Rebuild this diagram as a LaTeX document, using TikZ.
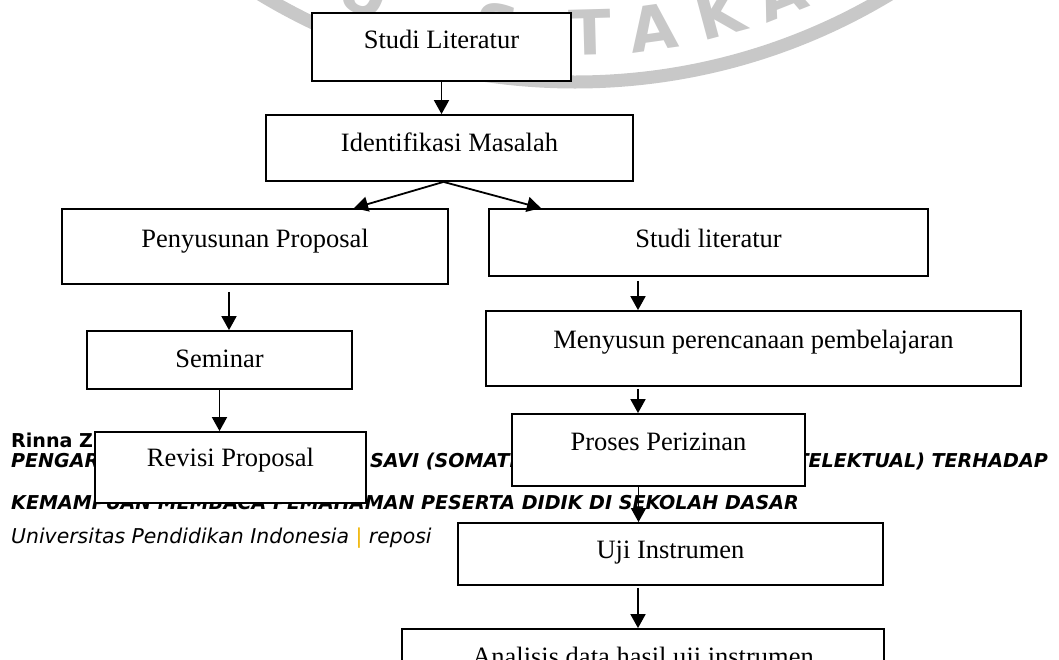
\documentclass[tikz,border=0pt]{standalone}
\usepackage{fontspec}
\setmainfont{Liberation Serif}
\newfontfamily\footfont{DejaVu Sans}
\usetikzlibrary{arrows.meta,calc}
\definecolor{wmgray}{RGB}{200,200,200}
\definecolor{sepcol}{RGB}{240,180,0}
\tikzset{
  flowbox/.style={draw=black, line width=1.8pt, fill=white, inner xsep=0pt, inner ysep=0pt,
    anchor=base, font=\fontsize{26.5}{30}\selectfont},
  flowarrow/.style={line width=1.8pt, -{Triangle[width=15pt,length=14pt]}},
  foot/.style={anchor=base west, inner sep=0pt, font=\footfont\fontsize{19.1}{22}\selectfont\bfseries\itshape},
  wmletter/.style={text=wmgray, inner sep=0pt, font=\footfont\bfseries\fontsize{62}{64}\selectfont}
}
\begin{document}
\begin{tikzpicture}[x=1pt,y=-1pt]
\useasboundingbox (0,0) rectangle (1059,659);
\fill[white] (0,0) rectangle (1059,659);
\clip (0,0) rectangle (1059,659);
% watermark
\draw[wmgray, line width=13pt] (575,-527) circle[radius=609pt];
\foreach \ch/\ang [count=\i] in {P/-30,U/-22,S/-8,T/1.5,A/8,K/15,A/21.5}
  \node[wmletter, rotate=\ang] (wm\i) at ($(575,-527)+({560*sin(\ang)},{560*cos(\ang)})$) {\ch};
% footer text of the page
\node[foot, font=\footfont\fontsize{19.1}{22}\selectfont\bfseries] (f1) at (11,447) {Rinna Z};
\node[foot] (f2a) at (11,467) {PENGARUH};
\node[foot] (f2b) at (370,467) {SAVI (SOMATIS,};
\node[foot, anchor=base east] (f2c) at (1048,467) {INTELEKTUAL) TERHADAP};
\node[foot] (f3) at (11,509) {KEMAMPUAN MEMBACA PEMAHAMAN PESERTA DIDIK DI SEKOLAH DASAR};
\node[foot, font=\footfont\fontsize{20.4}{23}\selectfont\itshape] (f4) at (11,543) {Universitas Pendidikan Indonesia {\color{sepcol}\upshape|} reposi};
% boxes
\node[flowbox, minimum width=259pt, text height=35pt, text depth=33pt] (sl) at (441.5,48) {Studi Literatur};
\node[flowbox, minimum width=367pt, text height=36pt, text depth=30pt] (idm) at (449.5,151) {Identifikasi Masalah};
\node[flowbox, minimum width=386pt, text height=38pt, text depth=37pt] (pen) at (255,247) {Penyusunan Proposal};
\node[flowbox, minimum width=439pt, text height=38pt, text depth=29pt] (sl2) at (708.5,247) {Studi literatur};
\node[flowbox, minimum width=535pt, text height=37pt, text depth=38pt] (men) at (753.5,348) {Menyusun perencanaan pembelajaran};
\node[flowbox, minimum width=265pt, text height=36pt, text depth=22pt] (sem) at (219.5,367) {Seminar};
\node[flowbox, minimum width=271pt, text height=34pt, text depth=37pt] (rev) at (230.5,466) {Revisi Proposal};
\node[flowbox, minimum width=293pt, text height=36pt, text depth=36pt] (pro) at (658.5,450) {Proses Perizinan};
\node[flowbox, minimum width=425pt, text height=35pt, text depth=27pt] (uji) at (670.5,558) {Uji Instrumen};
\node[flowbox, minimum width=482pt, text height=36pt, text depth=40pt] (ana) at (643,665) {Analisis data hasil uji instrumen};
% arrows
\draw[flowarrow] (sl.south) -- (sl.south |- idm.north);
\draw[flowarrow] ($(idm.south)+(-6,0)$) -- ($(pen.north)+(99,0)$);
\draw[flowarrow] ($(idm.south)+(-6,0)$) -- ($(sl2.north)+(-167.5,0)$);
\draw[flowarrow] ($(pen.south)+(-26,7)$) coordinate (pa) -- (pa |- sem.north);
\draw[flowarrow] (sem.south) -- (sem.south |- rev.north);
\draw[flowarrow] ($(sl2.south)+(-70.5,4)$) coordinate (ra) -- (ra |- men.north);
\draw[flowarrow] ($(men.south)+(-115.5,2)$) coordinate (rb) -- (rb |- pro.north);
\draw[flowarrow] ($(pro.south)+(-20,0)$) coordinate (rc) -- (rc |- uji.north);
\draw[flowarrow] ($(uji.south)+(-32.5,2)$) coordinate (rd) -- (rd |- ana.north);
\end{tikzpicture}
\end{document}
